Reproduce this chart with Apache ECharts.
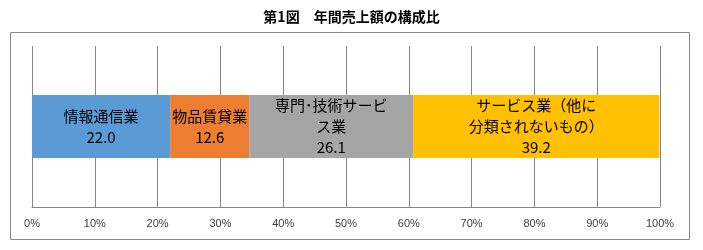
<!DOCTYPE html>
<html>
<head>
<meta charset="utf-8">
<script src="https://cdn.jsdelivr.net/npm/echarts@6/dist/echarts.min.js"></script>
<style>
html,body{margin:0;padding:0;background:#fff;}
#chart{width:703px;height:250px;}
</style>
</head>
<body>
<div id="chart"></div>
<script>
// 業種ごとの構成比（%）
var names = ['情報通信業', '物品賃貸業', '専門･技術サービ\nス業', 'サービス業（他に\n分類されないもの）'];
var seriesNames = ['情報通信業', '物品賃貸業', '専門・技術サービス業', 'サービス業（他に分類されないもの）'];
var values = [22.0, 12.6, 26.1, 39.2];
var colors = ['#5B9BD5', '#ED7D31', '#A5A5A5', '#FFC000'];
var categories = ['構成比'];

var chart = echarts.init(document.getElementById('chart'));

var series = [];
for (let i = 0; i < values.length; i++) {
    series.push({
        name: seriesNames[i],
        type: 'bar',
        stack: 'total',
        barWidth: 63,
        data: [values[i]],
        itemStyle: { color: colors[i] },
        label: {
            show: true,
            position: 'inside',
            color: '#000',
            fontSize: 15,
            lineHeight: 21,
            fontFamily: '"Noto Sans CJK JP", sans-serif',
            formatter: function (p) {
                return names[i] + '\n' + p.value.toFixed(1);
            }
        }
    });
}

var option = {
    animation: false,
    title: {
        text: '第1図　年間売上額の構成比',
        left: 'center',
        top: 5,
        textStyle: {
            fontSize: 14,
            fontWeight: 'bold',
            color: '#000',
            fontFamily: '"Noto Sans CJK JP", sans-serif'
        }
    },
    graphic: [{
        type: 'rect',
        shape: { x: 10.5, y: 32.5, width: 679, height: 207 },
        style: { fill: 'none', stroke: '#888', lineWidth: 1 },
        silent: true
    }],
    grid: {
        left: 32,
        right: 43,
        top: 46,
        bottom: 43
    },
    xAxis: {
        type: 'value',
        min: 0,
        max: 100,
        interval: 10,
        axisLine: { show: true, lineStyle: { color: '#868686' } },
        axisTick: { show: false },
        splitLine: { show: true, lineStyle: { color: '#868686', width: 1 } },
        axisLabel: {
            formatter: '{value}%',
            color: '#404040',
            fontSize: 11,
            margin: 11,
            fontFamily: '"Liberation Sans", sans-serif'
        }
    },
    yAxis: {
        type: 'category',
        data: categories,
        axisLine: { show: false },
        axisTick: { show: false },
        axisLabel: { show: false }
    },
    series: series
};
chart.setOption(option);
</script>
</body>
</html>
